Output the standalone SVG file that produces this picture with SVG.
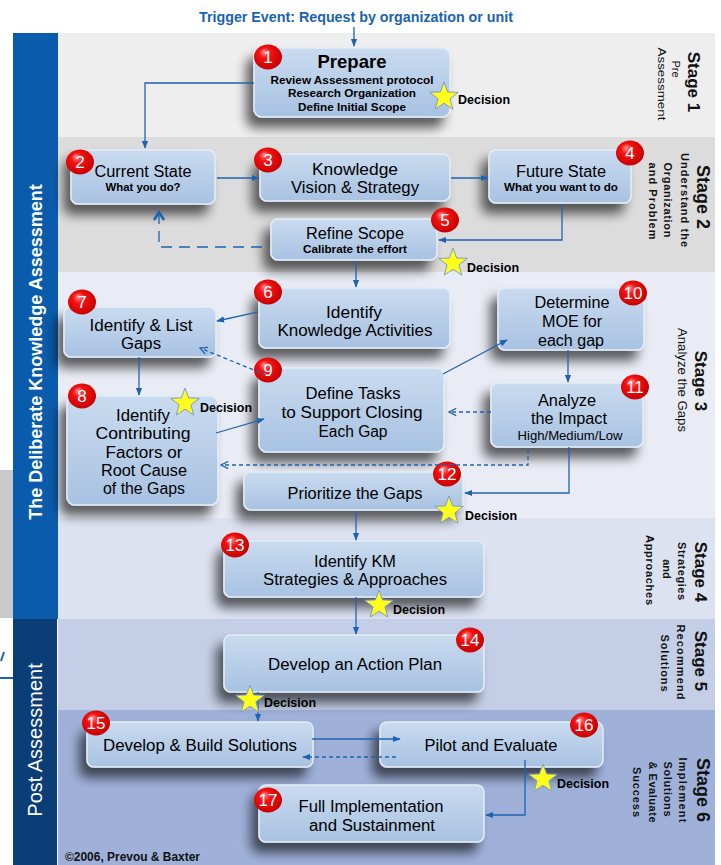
<svg xmlns="http://www.w3.org/2000/svg" width="721" height="865" viewBox="0 0 721 865">
<defs>
  <linearGradient id="boxg" x1="0" y1="0" x2="0" y2="1">
    <stop offset="0" stop-color="#c9dbef"/>
    <stop offset="1" stop-color="#a8c2e2"/>
  </linearGradient>
  <radialGradient id="badgeg" cx="0.45" cy="0.45" r="0.6" fx="0.36" fy="0.28">
    <stop offset="0" stop-color="#ff9090"/>
    <stop offset="0.35" stop-color="#f51212"/>
    <stop offset="1" stop-color="#c20000"/>
  </radialGradient>
  <filter id="shadow" x="-25%" y="-30%" width="150%" height="190%">
    <feGaussianBlur in="SourceAlpha" stdDeviation="6"/>
    <feOffset dx="-7" dy="10"/>
    <feComponentTransfer><feFuncA type="linear" slope="0.62"/></feComponentTransfer>
    <feMerge><feMergeNode/><feMergeNode in="SourceGraphic"/></feMerge>
  </filter>
  <marker id="arr" viewBox="0 0 10 10" refX="9" refY="5" markerWidth="8" markerHeight="8" markerUnits="userSpaceOnUse" orient="auto">
    <path d="M0,1 L10,5 L0,9 z" fill="#1f63b0"/>
  </marker>
  <marker id="open" viewBox="0 0 10 10" refX="9" refY="5" markerWidth="9" markerHeight="9" markerUnits="userSpaceOnUse" orient="auto">
    <path d="M1,1 L9,5 L1,9" fill="none" stroke="#1f63b0" stroke-width="1.4"/>
  </marker>
  <marker id="openthick" viewBox="0 0 12 12" refX="10" refY="6" markerWidth="12" markerHeight="12" markerUnits="userSpaceOnUse" orient="auto">
    <path d="M2,1 L10,6 L2,11" fill="none" stroke="#1f63b0" stroke-width="2.6"/>
  </marker>
  <path id="star" d="M0,-15 L3.64,-5.02 L14.27,-4.64 L5.9,1.92 L8.82,12.14 L0,6.2 L-8.82,12.14 L-5.9,1.92 L-14.27,-4.64 L-3.64,-5.02 Z"/>
</defs>
<style>
  .box { fill: url(#boxg); stroke: #e3edf8; stroke-width: 1.5; filter: url(#shadow); }
  .t { font-family: "Liberation Sans", Arial, sans-serif; fill: #000; text-anchor: middle; }
  .b { font-weight: bold; }
  .badge ellipse { fill: url(#badgeg); }
  .badge text { font-family: "Liberation Sans", Arial, sans-serif; fill: #fff; font-size: 17px; text-anchor: middle; }
  .star { fill: #ffff1a; stroke: #7f9ec9; stroke-width: 1; }
  .dec { font-family: "Liberation Sans", Arial, sans-serif; font-weight: bold; font-size: 13px; fill: #000; }
  .con { fill: none; stroke: #1f63b0; stroke-width: 1.3; }
  .dash { stroke-dasharray: 4,3; }
  .stg { font-family: "Liberation Sans", Arial, sans-serif; fill: #111; text-anchor: middle; }
</style>

<g id="background">
  <rect x="58" y="33" width="657" height="104" fill="#eeeeee"/>
  <rect x="58" y="137" width="657" height="135" fill="#dcdcdc"/>
  <rect x="58" y="272" width="657" height="246" fill="#e9ecf4"/>
  <rect x="58" y="518" width="657" height="101" fill="#dde2f0"/>
  <rect x="58" y="619" width="657" height="91" fill="#c4cee6"/>
  <rect x="58" y="710" width="657" height="155" fill="#9fb1d9"/>
  <rect x="0" y="470" width="13" height="148" fill="#c9c9c9"/>
  <path d="M4,652 L1,661" stroke="#1f63b0" stroke-width="2" fill="none"/>
  <path d="M0,678 H13" stroke="#1f63b0" stroke-width="2" fill="none"/>
  <rect x="13" y="33" width="45" height="586" fill="#0a5bab"/>
  <rect x="13" y="619" width="44" height="246" fill="#0b3d77"/>
</g>

<g id="side-labels">
  <text transform="translate(41.5,352) rotate(-90)" font-family="Liberation Sans, Arial, sans-serif" font-weight="bold" font-size="18" fill="#fff" text-anchor="middle">The Deliberate Knowledge Assessment</text>
  <text transform="translate(42,740) rotate(-90)" font-family="Liberation Sans, Arial, sans-serif" font-size="20" fill="#fff" text-anchor="middle">Post Assessment</text>
</g>

<text x="356" y="22" font-family="Liberation Sans, Arial, sans-serif" font-weight="bold" font-size="14" fill="#1a62b3" text-anchor="middle" textLength="314" lengthAdjust="spacingAndGlyphs">Trigger Event: Request by organization or unit</text>

<g id="stage-labels">
  <g id="stage-1">
    <text class="stg b" transform="translate(688,82) rotate(90)" font-size="17">Stage 1</text>
    <text class="stg" transform="translate(672,69) rotate(90)" font-size="11">Pre</text>
    <text class="stg" transform="translate(657.5,84) rotate(90)" font-size="11" textLength="73" lengthAdjust="spacingAndGlyphs">Assessment</text>
  </g>
  <g id="stage-2">
    <text class="stg b" transform="translate(697,197) rotate(90)" font-size="18">Stage 2</text>
    <text class="stg b" transform="translate(681,200) rotate(90)" font-size="11" textLength="94" lengthAdjust="spacing">Understand the</text>
    <text class="stg b" transform="translate(664,200) rotate(90)" font-size="11" textLength="75" lengthAdjust="spacing">Organization</text>
    <text class="stg b" transform="translate(649,201) rotate(90)" font-size="11" textLength="77" lengthAdjust="spacing">and Problem</text>
  </g>
  <g id="stage-3">
    <text class="stg b" transform="translate(695,381) rotate(90)" font-size="17">Stage 3</text>
    <text class="stg" transform="translate(678,380) rotate(90)" font-size="12" textLength="104" lengthAdjust="spacingAndGlyphs">Analyze the Gaps</text>
  </g>
  <g id="stage-4">
    <text class="stg b" transform="translate(695,572) rotate(90)" font-size="17">Stage 4</text>
    <text class="stg b" transform="translate(678,571) rotate(90)" font-size="11" textLength="58" lengthAdjust="spacing">Strategies</text>
    <text class="stg b" transform="translate(663,569) rotate(90)" font-size="11">and</text>
    <text class="stg b" transform="translate(646,570) rotate(90)" font-size="11" textLength="70" lengthAdjust="spacing">Approaches</text>
  </g>
  <g id="stage-5">
    <text class="stg b" transform="translate(695,661) rotate(90)" font-size="17">Stage 5</text>
    <text class="stg b" transform="translate(677,662) rotate(90)" font-size="11" textLength="75" lengthAdjust="spacing">Recommend</text>
    <text class="stg b" transform="translate(661,663) rotate(90)" font-size="11" textLength="57" lengthAdjust="spacing">Solutions</text>
  </g>
  <g id="stage-6">
    <text class="stg b" transform="translate(697,790) rotate(90)" font-size="18">Stage 6</text>
    <text class="stg b" transform="translate(679,790) rotate(90)" font-size="11" textLength="65" lengthAdjust="spacing">Implement</text>
    <text class="stg b" transform="translate(664,789) rotate(90)" font-size="11" textLength="55" lengthAdjust="spacing">Solutions</text>
    <text class="stg b" transform="translate(649,792) rotate(90)" font-size="11" textLength="61" lengthAdjust="spacing">&amp; Evaluate</text>
    <text class="stg b" transform="translate(633,792) rotate(90)" font-size="11" textLength="50" lengthAdjust="spacing">Success</text>
  </g>
</g>

<g id="node-1">
  <rect class="box" x="254" y="48" width="196" height="69" rx="8"/>
  <text class="t b" x="352" y="68" font-size="19" textLength="69" lengthAdjust="spacingAndGlyphs">Prepare</text>
  <text class="t b" x="352" y="84" font-size="11.5" textLength="163" lengthAdjust="spacingAndGlyphs">Review Assessment protocol</text>
  <text class="t b" x="352" y="97" font-size="11.5" textLength="128" lengthAdjust="spacingAndGlyphs">Research Organization</text>
  <text class="t b" x="352" y="111" font-size="11.5" textLength="108" lengthAdjust="spacingAndGlyphs">Define Initial Scope</text>
  <g class="badge"><ellipse cx="268" cy="57" rx="14" ry="12.5"/><text x="268" y="63">1</text></g>
</g>

<g id="node-2">
  <rect class="box" x="71" y="150" width="144" height="54" rx="7"/>
  <text class="t" x="143" y="177" font-size="16" textLength="97" lengthAdjust="spacingAndGlyphs">Current State</text>
  <text class="t b" x="143" y="191" font-size="11" textLength="75" lengthAdjust="spacingAndGlyphs">What you do?</text>
  <g class="badge"><ellipse cx="80" cy="162" rx="14" ry="12.5"/><text x="80" y="168">2</text></g>
</g>

<g id="node-3">
  <rect class="box" x="260" y="154" width="190" height="47" rx="7"/>
  <text class="t" x="355" y="175" font-size="17" textLength="86" lengthAdjust="spacingAndGlyphs">Knowledge</text>
  <text class="t" x="355" y="193" font-size="17" textLength="128" lengthAdjust="spacingAndGlyphs">Vision &amp; Strategy</text>
  <g class="badge"><ellipse cx="268" cy="160" rx="14" ry="12.5"/><text x="268" y="166">3</text></g>
</g>

<g id="node-4">
  <rect class="box" x="489" y="150" width="142" height="53" rx="7"/>
  <text class="t" x="561" y="177" font-size="16" textLength="90" lengthAdjust="spacingAndGlyphs">Future State</text>
  <text class="t b" x="561" y="191" font-size="11" textLength="114" lengthAdjust="spacingAndGlyphs">What you want to do</text>
  <g class="badge"><ellipse cx="630" cy="153" rx="14" ry="12.5"/><text x="630" y="159">4</text></g>
</g>

<g id="node-5">
  <rect class="box" x="271" y="219" width="166" height="41" rx="7"/>
  <text class="t" x="355" y="239" font-size="16" textLength="98" lengthAdjust="spacingAndGlyphs">Refine Scope</text>
  <text class="t b" x="355" y="253" font-size="11" textLength="104" lengthAdjust="spacingAndGlyphs">Calibrate the effort</text>
  <g class="badge"><ellipse cx="445" cy="220" rx="14" ry="12.5"/><text x="445" y="226">5</text></g>
</g>

<g id="node-6">
  <rect class="box" x="259" y="288" width="191" height="60" rx="7"/>
  <text class="t" x="354" y="318" font-size="16" textLength="56" lengthAdjust="spacingAndGlyphs">Identify</text>
  <text class="t" x="355" y="336" font-size="16" textLength="155" lengthAdjust="spacingAndGlyphs">Knowledge Activities</text>
  <g class="badge"><ellipse cx="268" cy="292" rx="14" ry="12.5"/><text x="268" y="298">6</text></g>
</g>

<g id="node-7">
  <rect class="box" x="64" y="307" width="152" height="50" rx="7"/>
  <text class="t" x="141" y="331" font-size="16" textLength="103" lengthAdjust="spacingAndGlyphs">Identify &amp; List</text>
  <text class="t" x="141" y="349" font-size="16" textLength="40" lengthAdjust="spacingAndGlyphs">Gaps</text>
  <g class="badge"><ellipse cx="82" cy="302" rx="14" ry="12.5"/><text x="82" y="308">7</text></g>
</g>

<g id="node-8">
  <rect class="box" x="67" y="396" width="151" height="109" rx="8"/>
  <text class="t" x="143" y="421" font-size="16" textLength="54" lengthAdjust="spacingAndGlyphs">Identify</text>
  <text class="t" x="143" y="439" font-size="16" textLength="95" lengthAdjust="spacingAndGlyphs">Contributing</text>
  <text class="t" x="144" y="458" font-size="16" textLength="77" lengthAdjust="spacingAndGlyphs">Factors or</text>
  <text class="t" x="144" y="476" font-size="16" textLength="86" lengthAdjust="spacingAndGlyphs">Root Cause</text>
  <text class="t" x="144" y="494" font-size="16" textLength="82" lengthAdjust="spacingAndGlyphs">of the Gaps</text>
  <g class="badge"><ellipse cx="82" cy="396" rx="14" ry="12.5"/><text x="82" y="402">8</text></g>
</g>

<g id="node-9">
  <rect class="box" x="259" y="368" width="185" height="84" rx="8"/>
  <text class="t" x="353" y="399" font-size="16" textLength="95" lengthAdjust="spacingAndGlyphs">Define Tasks</text>
  <text class="t" x="352" y="418" font-size="16" textLength="141" lengthAdjust="spacingAndGlyphs">to Support Closing</text>
  <text class="t" x="353" y="437" font-size="16" textLength="69" lengthAdjust="spacingAndGlyphs">Each Gap</text>
  <g class="badge"><ellipse cx="268" cy="370" rx="14" ry="12.5"/><text x="268" y="376">9</text></g>
</g>

<g id="node-10">
  <rect class="box" x="498" y="288" width="146" height="62" rx="7"/>
  <text class="t" x="572" y="308" font-size="16" textLength="75" lengthAdjust="spacingAndGlyphs">Determine</text>
  <text class="t" x="572" y="327" font-size="16" textLength="60" lengthAdjust="spacingAndGlyphs">MOE for</text>
  <text class="t" x="571" y="346" font-size="16" textLength="66" lengthAdjust="spacingAndGlyphs">each gap</text>
  <g class="badge"><ellipse cx="633" cy="293" rx="14" ry="12.5"/><text x="633" y="299">10</text></g>
</g>

<g id="node-11">
  <rect class="box" x="491" y="383" width="152" height="64" rx="7"/>
  <text class="t" x="567" y="406" font-size="16" textLength="58" lengthAdjust="spacingAndGlyphs">Analyze</text>
  <text class="t" x="569" y="424" font-size="16" textLength="76" lengthAdjust="spacingAndGlyphs">the Impact</text>
  <text class="t" x="570" y="440" font-size="12" fill="#333" textLength="105" lengthAdjust="spacingAndGlyphs">High/Medium/Low</text>
  <g class="badge"><ellipse cx="635" cy="387" rx="14" ry="12.5"/><text x="635" y="393">11</text></g>
</g>

<g id="node-12">
  <rect class="box" x="244" y="472" width="219" height="38" rx="7"/>
  <text class="t" x="355" y="499" font-size="16" textLength="135" lengthAdjust="spacingAndGlyphs">Prioritize the Gaps</text>
  <g class="badge"><ellipse cx="447" cy="474" rx="14" ry="12.5"/><text x="447" y="480">12</text></g>
</g>

<g id="node-13">
  <rect class="box" x="224" y="541" width="260" height="56" rx="7"/>
  <text class="t" x="355" y="567" font-size="16" textLength="82" lengthAdjust="spacingAndGlyphs">Identify KM</text>
  <text class="t" x="355" y="585" font-size="16" textLength="184" lengthAdjust="spacingAndGlyphs">Strategies &amp; Approaches</text>
  <g class="badge"><ellipse cx="235" cy="545" rx="14" ry="12.5"/><text x="235" y="551">13</text></g>
</g>

<g id="node-14">
  <rect class="box" x="224" y="635" width="260" height="57" rx="7"/>
  <text class="t" x="355" y="670" font-size="16" textLength="174" lengthAdjust="spacingAndGlyphs">Develop an Action Plan</text>
  <g class="badge"><ellipse cx="470" cy="640" rx="14" ry="12.5"/><text x="470" y="646">14</text></g>
</g>

<g id="node-15">
  <rect class="box" x="87" y="722" width="226" height="45" rx="7"/>
  <text class="t" x="200" y="751" font-size="16" textLength="194" lengthAdjust="spacingAndGlyphs">Develop &amp; Build Solutions</text>
  <g class="badge"><ellipse cx="96" cy="723" rx="14" ry="12.5"/><text x="96" y="729">15</text></g>
</g>

<g id="node-16">
  <rect class="box" x="380" y="722" width="223" height="45" rx="7"/>
  <text class="t" x="491" y="751" font-size="16" textLength="133" lengthAdjust="spacingAndGlyphs">Pilot and Evaluate</text>
  <g class="badge"><ellipse cx="584" cy="725" rx="14" ry="12.5"/><text x="584" y="731">16</text></g>
</g>

<g id="node-17">
  <rect class="box" x="259" y="785" width="225" height="57" rx="7"/>
  <text class="t" x="371" y="812" font-size="16" textLength="145" lengthAdjust="spacingAndGlyphs">Full Implementation</text>
  <text class="t" x="372" y="831" font-size="16" textLength="126" lengthAdjust="spacingAndGlyphs">and Sustainment</text>
  <g class="badge"><ellipse cx="268" cy="800" rx="14" ry="12.5"/><text x="268" y="806">17</text></g>
</g>

<g id="connectors">
  <path class="con" d="M354,27 V46" marker-end="url(#arr)"/>
  <path class="con" d="M254,83 H145 V148" marker-end="url(#arr)"/>
  <path class="con" d="M217,178 H259" marker-end="url(#arr)"/>
  <path class="con" d="M451,178 H488" marker-end="url(#arr)"/>
  <path class="con" d="M562,205 V240 H439" marker-end="url(#arr)"/>
  <path class="con" d="M262,247 H159 V212" stroke-width="3" stroke-dasharray="11,7" marker-end="url(#openthick)"/>
  <path class="con" d="M356,261 V287" marker-end="url(#arr)"/>
  <path class="con" d="M258,312 L217,321" marker-end="url(#arr)"/>
  <path class="con" d="M139,357 V395" marker-end="url(#arr)"/>
  <path class="con dash" d="M266,375 L200,348" marker-end="url(#open)"/>
  <path class="con" d="M216,433 L264,419" marker-end="url(#arr)"/>
  <path class="con" d="M443,374 L507,340" marker-end="url(#arr)"/>
  <path class="con" d="M568,350 V382" marker-end="url(#arr)"/>
  <path class="con dash" d="M491,412 H449" marker-end="url(#open)"/>
  <path class="con dash" d="M528,449 V465 H221" marker-end="url(#open)"/>
  <path class="con" d="M569,447 V493 H465" marker-end="url(#arr)"/>
  <path class="con" d="M356,511 V540" marker-end="url(#arr)"/>
  <path class="con" d="M356,597 V634" marker-end="url(#arr)"/>
  <path class="con" d="M258,692 V721" marker-end="url(#arr)"/>
  <path class="con" d="M312,739 H400" marker-end="url(#arr)"/>
  <path class="con dash" d="M396,757 H303" marker-end="url(#arr)"/>
  <path class="con" d="M525,760 V815 H486" marker-end="url(#arr)"/>
</g>

<g id="decisions">
  <use href="#star" class="star" x="444" y="97"/>
  <text class="dec" x="458" y="104" textLength="52" lengthAdjust="spacingAndGlyphs">Decision</text>
  <use href="#star" class="star" x="453" y="263"/>
  <text class="dec" x="467" y="272" textLength="52" lengthAdjust="spacingAndGlyphs">Decision</text>
  <use href="#star" class="star" x="185" y="403"/>
  <text class="dec" x="200" y="412" textLength="52" lengthAdjust="spacingAndGlyphs">Decision</text>
  <use href="#star" class="star" x="449" y="511"/>
  <text class="dec" x="465" y="520" textLength="52" lengthAdjust="spacingAndGlyphs">Decision</text>
  <use href="#star" class="star" x="379" y="605"/>
  <text class="dec" x="393" y="614" textLength="52" lengthAdjust="spacingAndGlyphs">Decision</text>
  <use href="#star" class="star" x="250" y="700"/>
  <text class="dec" x="264" y="707" textLength="52" lengthAdjust="spacingAndGlyphs">Decision</text>
  <use href="#star" class="star" x="543" y="779"/>
  <text class="dec" x="557" y="788" textLength="52" lengthAdjust="spacingAndGlyphs">Decision</text>
</g>

<text x="65" y="861" font-family="Liberation Sans, Arial, sans-serif" font-weight="bold" font-size="12" fill="#111" textLength="135" lengthAdjust="spacingAndGlyphs">©2006, Prevou &amp; Baxter</text>
</svg>
